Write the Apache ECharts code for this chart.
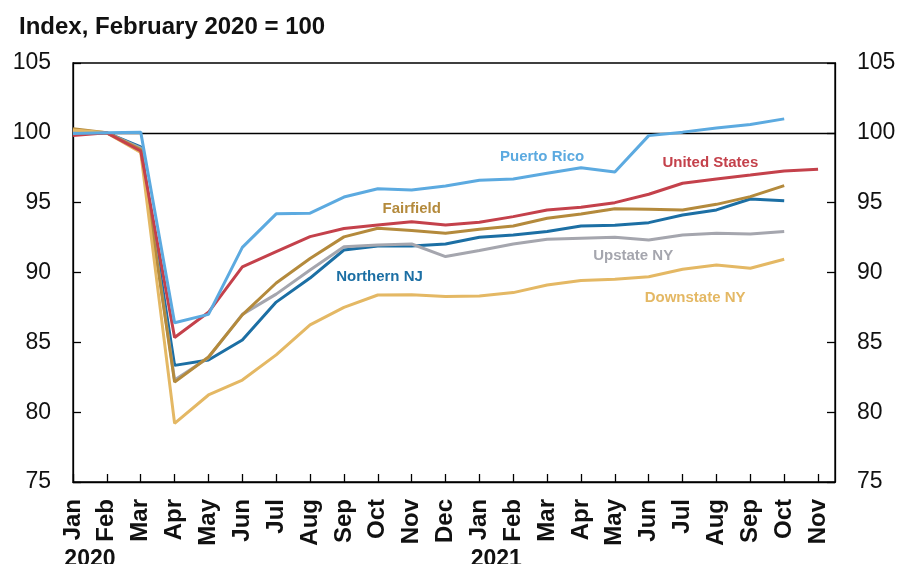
<!DOCTYPE html>
<html>
<head>
<meta charset="utf-8">
<script src="https://cdn.jsdelivr.net/npm/echarts@6/dist/echarts.min.js"></script>
<style>
  html, body { margin: 0; padding: 0; background: #fff; }
  #chart { width: 901px; height: 564px; }
</style>
</head>
<body>
<div id="chart"></div>
<script>
// Monthly categories, January 2020 through November 2021
const months = ['Jan','Feb','Mar','Apr','May','Jun','Jul','Aug','Sep','Oct','Nov','Dec',
                'Jan','Feb','Mar','Apr','May','Jun','Jul','Aug','Sep','Oct','Nov'];
const yearStarts = [0, 12];
const yearLabels = ['2020', '2021'];
const yTicks = [75, 80, 85, 90, 95, 100, 105];

// Index values, February 2020 = 100
const puertoRico   = [99.95, 100, 100.05, 86.4, 87.0, 91.8, 94.2, 94.25, 95.4, 96.0, 95.9, 96.2, 96.6, 96.7, 97.1, 97.5, 97.2, 99.8, 100.05, 100.35, 100.6, 101.0, null];
const unitedStates = [99.8, 100, 98.7, 85.35, 87.15, 90.4, 91.5, 92.57, 93.15, 93.4, 93.64, 93.4, 93.6, 94.0, 94.48, 94.67, 95.0, 95.6, 96.39, 96.7, 96.98, 97.27, 97.4];
const fairfield    = [100.3, 100, 98.8, 82.15, 83.95, 86.97, 89.25, 91.0, 92.55, 93.17, 93.0, 92.81, 93.09, 93.33, 93.88, 94.19, 94.57, 94.53, 94.48, 94.88, 95.43, 96.22, null];
const northernNJ   = [100.0, 100, 99.0, 83.35, 83.74, 85.17, 87.88, 89.6, 91.61, 91.9, 91.9, 92.04, 92.52, 92.69, 92.93, 93.33, 93.38, 93.57, 94.12, 94.48, 95.26, 95.14, null];
const upstateNY    = [100.1, 100, 98.9, 82.3, 83.9, 87.0, 88.45, 90.18, 91.85, 91.97, 92.04, 91.14, 91.57, 92.04, 92.38, 92.45, 92.52, 92.33, 92.69, 92.81, 92.76, 92.93, null];
const downstateNY  = [100.2, 100, 98.6, 79.2, 81.23, 82.3, 84.1, 86.25, 87.5, 88.39, 88.4, 88.28, 88.32, 88.56, 89.1, 89.42, 89.52, 89.7, 90.23, 90.54, 90.3, 90.95, null];

const FONT = '"Liberation Sans", Arial, Helvetica, sans-serif';

function pairs(values) {
  return values.map((v, i) => [i, v]);
}

// Inline series name placed in data space
function nameTag(text, x, y, color) {
  return {
    symbol: 'circle',
    symbolSize: 0,
    silent: true,
    data: [{ coord: [x, y], value: text }],
    itemStyle: { color: 'transparent' },
    label: {
      show: true,
      position: 'inside',
      formatter: text,
      color: color,
      fontFamily: FONT,
      fontWeight: 'bold',
      fontSize: 15
    }
  };
}

const seriesDefs = [
  { name: 'Northern NJ',   data: northernNJ,   color: '#1c6fa4', tag: [9.05, 89.68] },
  { name: 'Upstate NY',    data: upstateNY,    color: '#a5a6ae', tag: [16.54, 91.18] },
  { name: 'Fairfield',     data: fairfield,    color: '#b48a3c', tag: [10.0, 94.55] },
  { name: 'Downstate NY',  data: downstateNY,  color: '#e4b864', tag: [18.37, 88.15] },
  { name: 'United States', data: unitedStates, color: '#c4414b', tag: [18.82, 97.84] },
  { name: 'Puerto Rico',   data: puertoRico,   color: '#5caae0', tag: [13.85, 98.27] }
];

const series = seriesDefs.map((d, k) => ({
  name: d.name,
  type: 'line',
  data: pairs(d.data),
  showSymbol: false,
  symbol: 'none',
  lineStyle: { color: d.color, width: 3 },
  itemStyle: { color: d.color },
  z: 3 + k,
  markPoint: nameTag(d.name, d.tag[0], d.tag[1], d.color)
}));

// Reference line at the February 2020 base level
series[0].markLine = {
  silent: true,
  symbol: 'none',
  label: { show: false },
  lineStyle: { color: '#000', width: 1.3, type: 'solid' },
  data: [{ yAxis: 100 }]
};

const xMax = months.length - 0.5;

const tickStyle = { color: '#000', width: 1.3 };

const chart = echarts.init(document.getElementById('chart'), null, { renderer: 'canvas' });
chart.setOption({
  animation: false,
  backgroundColor: '#fff',
  title: {
    text: 'Index, February 2020 = 100',
    left: 14,
    top: 10,
    textStyle: { fontFamily: FONT, fontWeight: 'bold', fontSize: 24, color: '#111' }
  },
  grid: {
    left: 73, right: 66, top: 63, bottom: 82,
    outerBoundsMode: 'none',
    containLabel: false,
    show: true, borderColor: '#000', borderWidth: 1.3, backgroundColor: 'transparent'
  },
  xAxis: [
    {
      type: 'value',
      min: 0, max: xMax, interval: 1,
      position: 'bottom',
      splitLine: { show: false },
      axisLine: { show: true, onZero: false, lineStyle: { color: '#000', width: 1.3 } },
      axisTick: {
        show: true, inside: true, length: 8,
        customValues: months.map((m, i) => i),
        lineStyle: tickStyle
      },
      axisLabel: {
        show: true,
        customValues: months.map((m, i) => i),
        rotate: 90,
        margin: 17,
        formatter: v => months[Math.round(v)] || '',
        fontFamily: FONT, fontWeight: 'bold', fontSize: 24, color: '#111'
      }
    },
    {
      type: 'value',
      min: 0, max: xMax,
      position: 'bottom',
      splitLine: { show: false },
      axisLine: { show: false },
      axisTick: { show: false },
      axisLabel: {
        show: true,
        customValues: yearStarts.map(i => i + 0.5),
        margin: 66,
        formatter: v => yearLabels[yearStarts.indexOf(Math.round(v - 0.5))] || '',
        fontFamily: FONT, fontWeight: 'bold', fontSize: 23, color: '#111'
      }
    }
  ],
  yAxis: [
    {
      type: 'value',
      min: yTicks[0], max: yTicks[yTicks.length - 1], interval: 5,
      position: 'left',
      splitLine: { show: false },
      axisLine: { show: true, onZero: false, lineStyle: { color: '#000', width: 1.3 } },
      axisTick: { show: true, inside: true, length: 8, lineStyle: tickStyle },
      axisLabel: { margin: 22, fontFamily: FONT, fontSize: 23, color: '#111' }
    },
    {
      type: 'value',
      min: yTicks[0], max: yTicks[yTicks.length - 1], interval: 5,
      position: 'right',
      splitLine: { show: false },
      axisLine: { show: true, onZero: false, lineStyle: { color: '#000', width: 1.3 } },
      axisTick: { show: true, inside: true, length: 8, lineStyle: tickStyle },
      axisLabel: { margin: 22, fontFamily: FONT, fontSize: 23, color: '#111' }
    }
  ],
  series: series
});
</script>
</body>
</html>
